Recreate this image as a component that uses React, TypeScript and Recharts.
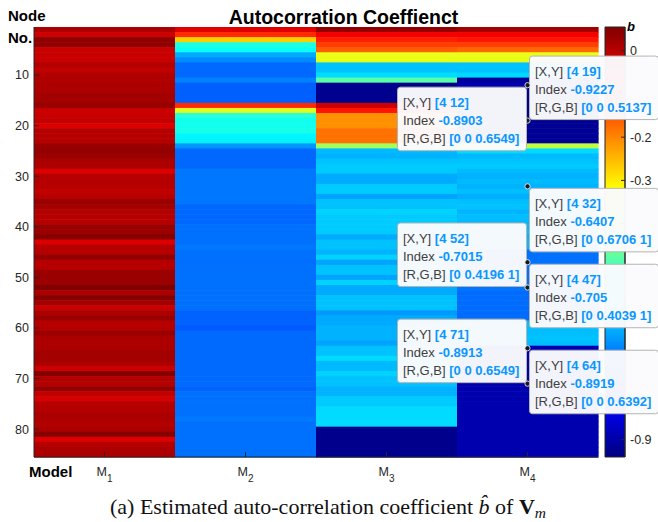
import React from 'react';
import { ScatterChart, Scatter, XAxis, YAxis, ComposedChart, Bar } from 'recharts';

// Columns of the heat map (M1..M4) and the node axis.
const MODEL_SUBS = ['1', '2', '3', '4'];
const MODEL_TICKS = [1, 2, 3, 4];
const NODE_TICKS = [10, 20, 30, 40, 50, 60, 70, 80];

// Colour bar (jet) range and ticks; only these labels are not hidden behind the tips.
const CB_MIN = -0.94;
const CB_MAX = 0.055;
const CB_TICKS = [0, -0.1, -0.2, -0.3, -0.4, -0.5, -0.6, -0.7, -0.8, -0.9];
const CB_LABELS = ['0', '-0.2', '-0.3', '-0.9'];

// Estimated b per node (rows 1..85), one array per model.
const M1_B = [
  0.012, -0.02, 0.04, 0.035, -0.016, -0.016, -0.016, 0.005, -0.01, 0.008,
  0.008, 0.012, 0.012, 0.02, 0.02, 0.03, -0.016, -0.016, -0.01, -0.035,
  0.002, 0.002, 0.002, 0.03, 0.035, 0.03, 0.012, 0.012, -0.035, 0.002,
  0.002, 0.002, -0.01, 0.002, 0.028, 0.02, 0.005, 0.002, 0.002, 0.028,
  0.028, 0.049, -0.035, 0.002, 0.002, 0.035, 0.002, 0.002, 0.028, 0.028,
  0.028, 0.06, 0.012, 0.049, 0.02, -0.016, 0.012, 0.028, 0.002, 0.002,
  0.028, 0.012, 0.012, 0.012, 0.02, 0.02, 0.012, -0.02, 0.049, 0.005,
  0.005, 0.035, -0.01, -0.028, 0.002, 0.002, 0.012, 0.012, 0.005, 0.012,
  0.049, -0.035, 0.002, 0.012, 0.012,
];
const M2_B = [
  -0.04, -0.11, -0.27, -0.54, -0.56, -0.65, -0.68, -0.713, -0.713, -0.713,
  -0.69, -0.722, -0.722, -0.722, -0.722, -0.11, -0.35, -0.53, -0.55, -0.55,
  -0.545, -0.575, -0.58, -0.67, -0.715, -0.715, -0.715, -0.715, -0.7, -0.7,
  -0.7, -0.7, -0.7, -0.7, -0.7, -0.715, -0.715, -0.715, -0.715, -0.705,
  -0.705, -0.705, -0.705, -0.7, -0.705, -0.705, -0.708, -0.705, -0.705, -0.705,
  -0.705, -0.705, -0.705, -0.705, -0.705, -0.705, -0.72, -0.72, -0.72, -0.728,
  -0.712, -0.712, -0.712, -0.712, -0.712, -0.712, -0.712, -0.712, -0.712, -0.712,
  -0.712, -0.72, -0.705, -0.705, -0.705, -0.705, -0.705, -0.698, -0.705, -0.705,
  -0.705, -0.705, -0.705, -0.705, -0.705,
];
const M3_B = [
  0.035, -0.06, -0.1, -0.13, -0.16, -0.34, -0.34, -0.626, -0.626, -0.6,
  -0.48, -0.925, -0.925, -0.925, -0.925, -0.02, -0.09, -0.21, -0.21, -0.21,
  -0.18, -0.18, -0.18, -0.41, -0.634, -0.642, -0.626, -0.618, -0.618, -0.65,
  -0.65, -0.618, -0.618, -0.657, -0.626, -0.626, -0.61, -0.618, -0.618, -0.618,
  -0.618, -0.65, -0.626, -0.626, -0.642, -0.61, -0.657, -0.626, -0.626, -0.657,
  -0.61, -0.65, -0.65, -0.626, -0.626, -0.626, -0.665, -0.65, -0.65, -0.642,
  -0.642, -0.642, -0.657, -0.626, -0.626, -0.602, -0.634, -0.634, -0.61, -0.626,
  -0.626, -0.642, -0.642, -0.618, -0.618, -0.602, -0.602, -0.602, -0.602, -0.928,
  -0.928, -0.928, -0.928, -0.928, -0.928,
];
const M4_B = [
  0.02, -0.06, -0.09, -0.13, -0.17, -0.34, -0.34, -0.626, -0.626, -0.605,
  -0.915, -0.8903, -0.91, -0.915, -0.915, -0.92, -0.92, -0.92, -0.9227, -0.92,
  -0.92, -0.92, -0.92, -0.38, -0.602, -0.634, -0.626, -0.618, -0.634, -0.642,
  -0.634, -0.6407, -0.63, -0.645, -0.63, -0.625, -0.64, -0.63, -0.635, -0.635,
  -0.628, -0.64, -0.63, -0.635, -0.705, -0.705, -0.705, -0.705, -0.705, -0.705,
  -0.705, -0.7015, -0.71, -0.71, -0.71, -0.71, -0.71, -0.71, -0.63, -0.63,
  -0.63, -0.625, -0.63, -0.8919, -0.89, -0.89, -0.89, -0.89, -0.89, -0.89,
  -0.8913, -0.895, -0.895, -0.895, -0.895, -0.895, -0.895, -0.895, -0.895, -0.895,
  -0.895, -0.895, -0.895, -0.895, -0.895,
];
const COLUMNS = [M1_B, M2_B, M3_B, M4_B];

// Data tips shown on column M4.
const TIP_NODES = [19, 12, 32, 52, 47, 71, 64];
const TIP_RGB = ['[0 0 0.5137]', '[0 0 0.6549]', '[0 0.6706 1]', '[0 0.4196 1]', '[0 0.4039 1]', '[0 0 0.6549]', '[0 0 0.6392]'];

// Which corner of the dot each tip box sits on (u/l = up/low, l/r = left/right).
const TIP_SIDE: Record<number, string> = { 19: 'ur', 12: 'll', 32: 'lr', 52: 'ul', 47: 'lr', 71: 'ul', 64: 'lr' };

const W = 658;
const H = 522;
const MARGIN = { top: 27, right: 60, bottom: 65, left: 34 };
const NODE_COUNT = M1_B.length;
const CELL_W = (W - MARGIN.left - MARGIN.right) / COLUMNS.length;
const CELL_H = (H - MARGIN.top - MARGIN.bottom) / NODE_COUNT;
const X_DOMAIN = [0.5, COLUMNS.length + 0.5];
const Y_DOMAIN = [0.5, NODE_COUNT + 0.5];

const INK = '#262626';
const TIP_BLUE = '#0a97ff';
const SANS = 'Liberation Sans, Arial, Helvetica, sans-serif';
const SERIF = 'Liberation Serif, Times New Roman, serif';
const TIP_W = 129;
const TIP_H = 63.5;

const CELLS = COLUMNS.flatMap((col, i) => col.map((b, j) => ({ model: i + 1, node: j + 1, b })));
const TIPS = TIP_NODES.map((node, i) => ({ model: 4, node, b: M4_B[node - 1], rgb: TIP_RGB[i] }));
const CB_DATA = [{ name: 'b', range: [CB_MIN, CB_MAX] }];

function jet(t: number) {
  const c = (x: number) => Math.round(255 * Math.min(1, Math.max(0, x)));
  return `rgb(${c(1.5 - Math.abs(4 * t - 3))},${c(1.5 - Math.abs(4 * t - 2))},${c(1.5 - Math.abs(4 * t - 1))})`;
}

function colorOf(b: number) {
  const t = (b - CB_MIN) / (CB_MAX - CB_MIN);
  return jet(Math.min(1, Math.max(0, t)));
}

function cbLabel(v: number) {
  const s = v === 0 ? '0' : v.toFixed(1);
  return CB_LABELS.includes(s) ? s : '';
}

function renderCell(props: any) {
  const { cx, cy, payload } = props;
  return (
    <rect
      x={cx - CELL_W / 2}
      y={cy - CELL_H / 2}
      width={CELL_W + 0.6}
      height={CELL_H + 0.6}
      fill={colorOf(payload.b)}
    />
  );
}

function renderTip(props: any) {
  const { cx, cy, payload } = props;
  const side = TIP_SIDE[payload.node] ?? 'lr';
  const bx = side[1] === 'r' ? cx + 2 : cx - TIP_W - 1;
  const by = side[0] === 'u' ? cy - TIP_H - 1 : cy + 2;
  const lines = [
    ['[X,Y] ', `[${payload.model} ${payload.node}]`],
    ['Index ', String(payload.b)],
    ['[R,G,B] ', payload.rgb],
  ];
  return (
    <g>
      <rect x={bx} y={by} width={TIP_W} height={TIP_H} rx={3} fill="#fbfbfd" fillOpacity={0.97} stroke="#b4b4b4" />
      {lines.map(([k, v], i) => (
        <text key={i} x={bx + 5.5} y={by + 19.5 + i * 18} fontSize={13} fontFamily={SANS}>
          <tspan fill="#404040">{k}</tspan>
          <tspan fill={TIP_BLUE} fontWeight="bold">{v}</tspan>
        </text>
      ))}
      <circle cx={cx} cy={cy} r={2.6} fill="#1a1a1a" stroke="#ffffff" strokeWidth={0.8} />
    </g>
  );
}

function ModelTick(props: any) {
  const { x, y, payload } = props;
  return (
    <text x={x} y={y + 24} textAnchor="middle" fontSize={12.5} fill={INK} fontFamily={SANS}>
      M<tspan fontSize={10} dy={6}>{MODEL_SUBS[payload.value - 1]}</tspan>
    </text>
  );
}

const layer: React.CSSProperties = { position: 'absolute', left: 0, top: 0 };

export default function App() {
  const stops = Array.from({ length: 17 }, (_, k) => k / 16);
  return (
    <div style={{ position: 'relative', width: W, height: H, background: '#fff' }}>
      <style>{'body{margin:0}'}</style>

      {/* colour bar */}
      <div style={layer}>
        <ComposedChart width={W} height={H} data={CB_DATA} barCategoryGap={0}
          margin={{ top: MARGIN.top, right: 0, bottom: MARGIN.bottom, left: 605 }}>
          <defs>
            <linearGradient id="jetGrad" x1="0" y1="1" x2="0" y2="0">
              {stops.map((t) => (
                <stop key={t} offset={t} stopColor={jet(t)} />
              ))}
            </linearGradient>
          </defs>
          <XAxis dataKey="name" hide height={0} />
          <YAxis orientation="right" type="number" domain={[CB_MIN, CB_MAX]} ticks={CB_TICKS} interval={0}
            width={33} tickSize={-4} tickMargin={9} stroke={INK}
            tick={{ fontSize: 12.5, fill: INK, fontFamily: SANS }}
            tickFormatter={cbLabel} />
          <Bar dataKey="range" fill="url(#jetGrad)" stroke={INK} strokeWidth={1} isAnimationActive={false} />
        </ComposedChart>
      </div>

      {/* heat map cells */}
      <div style={layer}>
        <ScatterChart width={W} height={H} margin={MARGIN}>
          <XAxis type="number" dataKey="model" domain={X_DOMAIN} hide height={0} />
          <YAxis type="number" dataKey="node" domain={Y_DOMAIN} reversed hide width={0} />
          <Scatter data={CELLS} shape={renderCell} isAnimationActive={false} />
        </ScatterChart>
      </div>

      {/* frame, ticks and data tips */}
      <div style={layer}>
        <ScatterChart width={W} height={H} margin={{ top: MARGIN.top, right: MARGIN.right, bottom: 0, left: 0 }}>
          <XAxis xAxisId="b" type="number" dataKey="model" domain={X_DOMAIN} ticks={MODEL_TICKS} interval={0}
            height={MARGIN.bottom} tickSize={-5} tickMargin={0} stroke={INK} tick={(p: any) => <ModelTick {...p} />} />
          <XAxis xAxisId="t" orientation="top" type="number" dataKey="model" domain={X_DOMAIN} ticks={MODEL_TICKS}
            interval={0} height={0} tickSize={-5} stroke={INK} tick={false} />
          <YAxis yAxisId="l" type="number" dataKey="node" domain={Y_DOMAIN} reversed ticks={NODE_TICKS} interval={0}
            width={MARGIN.left} tickSize={-5} tickMargin={10} stroke={INK}
            tick={{ fontSize: 12.5, fill: INK, fontFamily: SANS }} />
          <YAxis yAxisId="r" orientation="right" type="number" dataKey="node" domain={Y_DOMAIN} reversed
            ticks={NODE_TICKS} interval={0} width={0} tickSize={-5} stroke={INK} tick={false} />
          <Scatter xAxisId="t" yAxisId="r" data={TIPS} shape={() => <g />} isAnimationActive={false} />
          <Scatter xAxisId="b" yAxisId="l" data={TIPS} shape={renderTip} isAnimationActive={false} />
        </ScatterChart>
      </div>

      {/* titles and caption */}
      <svg width={W} height={H} style={{ ...layer, pointerEvents: 'none' }}>
        <text x={343.5} y={24} textAnchor="middle" fontSize={19.5} fontWeight="bold" fontFamily={SANS} fill="#000">
          Autocorration Coeffienct
        </text>
        <text x={8} y={21} fontSize={15} fontWeight="bold" fontFamily={SANS} fill="#000">Node</text>
        <text x={8} y={42.7} fontSize={15} fontWeight="bold" fontFamily={SANS} fill="#000">No.</text>
        <text x={29} y={477} fontSize={15} fontWeight="bold" fontFamily={SANS} fill="#000">Model</text>
        <text x={627} y={30.5} fontSize={13} fontWeight="bold" fontStyle="italic" fontFamily={SANS} fill="#000">b</text>
        <text x={328} y={514} textAnchor="middle" fontSize={22} fontFamily={SERIF} fill="#111">
          (a) Estimated auto-correlation coefficient <tspan fontStyle="italic">b&#770;</tspan> of{' '}
          <tspan fontWeight="bold">V</tspan>
          <tspan fontStyle="italic" fontSize={15.5} dy={4}>m</tspan>
        </text>
      </svg>
    </div>
  );
}
